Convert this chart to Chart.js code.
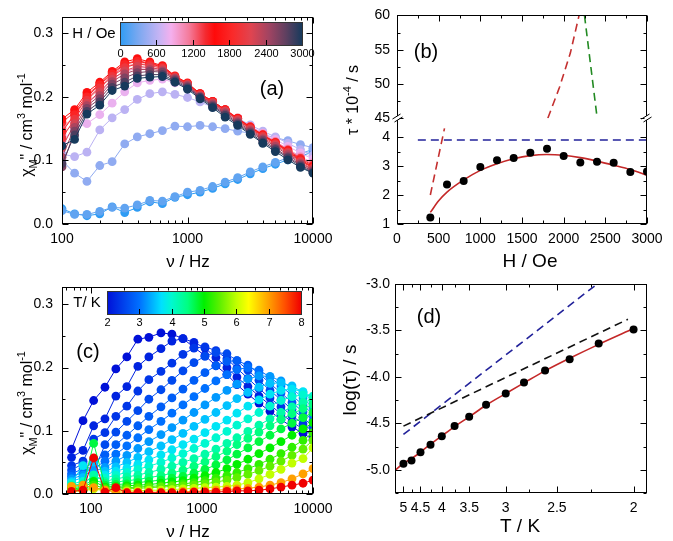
<!DOCTYPE html>
<html>
<head>
<meta charset="utf-8">
<script src="https://cdn.jsdelivr.net/npm/chart.js@4.4.1/dist/chart.umd.min.js"></script>
<style>
body { margin: 0; background: #fff; width: 673px; height: 541px; position: relative; overflow: hidden; }
canvas { position: absolute; }
</style>
</head>
<body>
<canvas id="ca" width="340" height="270" style="left:0;top:0"></canvas>
<canvas id="cb" width="333" height="270" style="left:340px;top:0"></canvas>
<canvas id="cc" width="340" height="271" style="left:0;top:270px"></canvas>
<canvas id="cd" width="333" height="271" style="left:340px;top:270px"></canvas>
<script>
// ---- panel (a): chi'' vs frequency at several fields ----
const freqA = [100, 126, 158, 200, 251, 316, 398, 501, 631, 794, 1000, 1259, 1585, 1995, 2512, 3162, 3981, 5012, 6310, 7943, 10000];
const fieldsA = [0, 200, 400, 600, 800, 1000, 1200, 1400, 1600, 1800, 2000, 2200, 2400, 2600, 2800, 3000];
const aH0    = [0.024,0.016,0.013,0.016,0.027,0.018,0.026,0.035,0.032,0.042,0.046,0.050,0.056,0.063,0.070,0.079,0.087,0.094,0.101,0.107,0.113];
const aH200  = [0.021,0.015,0.015,0.020,0.026,0.025,0.030,0.037,0.036,0.043,0.050,0.053,0.059,0.066,0.073,0.082,0.090,0.097,0.104,0.110,0.118];
const aH400  = [0.100,0.080,0.067,0.092,0.098,0.126,0.137,0.142,0.147,0.154,0.153,0.155,0.153,0.150,0.146,0.143,0.140,0.136,0.131,0.125,0.120];
const aH600  = [0.110,0.106,0.113,0.148,0.167,0.180,0.196,0.205,0.208,0.204,0.199,0.192,0.184,0.176,0.166,0.156,0.146,0.137,0.127,0.117,0.108];
const aH800  = [0.130,0.150,0.158,0.172,0.190,0.208,0.222,0.226,0.228,0.222,0.214,0.201,0.189,0.177,0.165,0.154,0.143,0.133,0.122,0.112,0.102];
const aH1000 = [0.140,0.160,0.190,0.205,0.228,0.240,0.245,0.246,0.242,0.229,0.218,0.204,0.192,0.179,0.166,0.153,0.142,0.130,0.118,0.106,0.096];
const aH1200 = [0.150,0.170,0.198,0.215,0.234,0.248,0.252,0.251,0.246,0.231,0.220,0.205,0.193,0.180,0.167,0.153,0.141,0.129,0.117,0.104,0.094];
const aH1400 = [0.160,0.176,0.203,0.220,0.238,0.252,0.257,0.253,0.248,0.232,0.221,0.205,0.193,0.180,0.166,0.153,0.140,0.128,0.116,0.103,0.092];
const aH1600 = [0.165,0.180,0.207,0.223,0.240,0.255,0.260,0.255,0.249,0.233,0.222,0.205,0.193,0.180,0.166,0.152,0.140,0.128,0.115,0.101,0.090];
const aH1800 = [0.145,0.172,0.200,0.219,0.236,0.251,0.256,0.252,0.247,0.232,0.221,0.204,0.192,0.179,0.165,0.151,0.139,0.127,0.114,0.100,0.089];
const aH2000 = [0.135,0.165,0.195,0.214,0.232,0.246,0.252,0.249,0.245,0.231,0.220,0.203,0.191,0.178,0.164,0.150,0.138,0.126,0.113,0.099,0.088];
const aH2200 = [0.120,0.158,0.190,0.208,0.228,0.241,0.248,0.246,0.243,0.230,0.219,0.202,0.190,0.177,0.163,0.149,0.136,0.124,0.111,0.097,0.086];
const aH2400 = [0.105,0.152,0.186,0.202,0.224,0.236,0.243,0.243,0.241,0.229,0.218,0.201,0.189,0.175,0.161,0.147,0.134,0.122,0.109,0.095,0.085];
const aH2600 = [0.090,0.146,0.182,0.197,0.220,0.230,0.238,0.240,0.239,0.227,0.216,0.200,0.187,0.173,0.159,0.145,0.132,0.119,0.106,0.093,0.083];
const aH2800 = [0.095,0.140,0.177,0.192,0.215,0.223,0.233,0.235,0.235,0.225,0.214,0.199,0.185,0.171,0.157,0.143,0.129,0.117,0.104,0.091,0.081];
const aH3000 = [0.123,0.133,0.173,0.187,0.210,0.217,0.229,0.231,0.232,0.223,0.212,0.197,0.183,0.168,0.155,0.141,0.127,0.114,0.101,0.089,0.080];
const seriesA = [aH0, aH200, aH400, aH600, aH800, aH1000, aH1200, aH1400, aH1600, aH1800, aH2000, aH2200, aH2400, aH2600, aH2800, aH3000];

// ---- panel (b): tau vs field ----
const fieldB = [400, 600, 800, 1000, 1200, 1400, 1600, 1800, 2000, 2200, 2400, 2600, 2800, 3000];
const tauB   = [1.22, 2.36, 2.48, 2.97, 3.20, 3.28, 3.46, 3.60, 3.35, 3.12, 3.15, 3.11, 2.79, 2.81];
const fitFieldB = [400, 500, 600, 800, 1000, 1200, 1400, 1600, 1800, 2000, 2200, 2400, 2600, 2800, 3000];
const fitTauB   = [1.40, 1.80, 2.10, 2.52, 2.85, 3.08, 3.25, 3.36, 3.40, 3.37, 3.29, 3.17, 3.03, 2.88, 2.68];
const blueDashH = [250, 3000];
const blueDashT = [3.9, 3.9];
const redLowH = [400, 570];
const redLowT = [2.0, 4.3];
const redHighH = [1810, 1950, 2080, 2185];
const redHighT = [45, 49.5, 54.5, 60];
const greenH = [2250, 2400];
const greenT = [60, 45.2];

// ---- panel (c): chi'' vs frequency at several temperatures ----
const freqC = [67, 85, 106, 134, 168, 211, 265, 333, 428, 537, 675, 848, 1065, 1337, 1679, 2066, 2594, 3263, 4100, 5150, 6470, 8130, 10000];
const tempsC = [2.0, 2.2, 2.4, 2.6, 2.8, 3.0, 3.25, 3.5, 3.75, 4.0, 4.25, 4.5, 4.75, 5.0, 5.25, 5.5, 6.0, 7.0, 8.0];
const cT200 = [0.071,0.116,0.148,0.169,0.198,0.217,0.245,0.248,0.255,0.253,0.246,0.232,0.219,0.203,0.189,0.173,0.158,0.144,0.131,0.118,0.106,0.096,0.086];
const cT220 = [0.058,0.069,0.108,0.119,0.155,0.170,0.202,0.217,0.230,0.242,0.246,0.240,0.231,0.216,0.200,0.185,0.170,0.155,0.141,0.127,0.114,0.103,0.092];
const cT240 = [0.045,0.052,0.087,0.097,0.123,0.139,0.163,0.181,0.194,0.207,0.221,0.231,0.233,0.227,0.214,0.199,0.183,0.167,0.152,0.138,0.124,0.111,0.099];
const cT260 = [0.038,0.048,0.035,0.078,0.098,0.115,0.132,0.150,0.165,0.180,0.195,0.208,0.218,0.224,0.222,0.211,0.196,0.180,0.164,0.149,0.134,0.121,0.107];
const cT280 = [0.032,0.040,0.050,0.062,0.078,0.093,0.108,0.123,0.138,0.152,0.166,0.180,0.192,0.203,0.210,0.211,0.204,0.191,0.175,0.160,0.145,0.130,0.116];
const cT300 = [0.028,0.034,0.040,0.052,0.063,0.076,0.089,0.102,0.115,0.128,0.141,0.154,0.167,0.179,0.189,0.197,0.200,0.196,0.185,0.171,0.156,0.141,0.126];
const cT325 = [0.024,0.030,0.036,0.042,0.052,0.061,0.072,0.083,0.094,0.105,0.117,0.129,0.141,0.153,0.164,0.174,0.182,0.187,0.186,0.179,0.167,0.152,0.137];
const cT350 = [0.020,0.026,0.050,0.036,0.043,0.050,0.058,0.067,0.076,0.086,0.096,0.107,0.118,0.129,0.140,0.151,0.161,0.169,0.175,0.176,0.171,0.161,0.147];
const cT375 = [0.018,0.045,0.030,0.030,0.036,0.041,0.047,0.054,0.062,0.070,0.078,0.087,0.097,0.107,0.117,0.128,0.139,0.149,0.158,0.164,0.166,0.162,0.153];
const cT400 = [0.016,0.020,0.025,0.025,0.030,0.034,0.039,0.044,0.050,0.057,0.064,0.072,0.080,0.089,0.099,0.109,0.119,0.129,0.139,0.148,0.154,0.157,0.155];
const cT425 = [0.014,0.016,0.030,0.020,0.024,0.027,0.030,0.034,0.039,0.044,0.050,0.056,0.063,0.071,0.080,0.089,0.099,0.109,0.119,0.129,0.138,0.145,0.150];
const cT450 = [0.012,0.014,0.022,0.017,0.019,0.021,0.023,0.026,0.029,0.033,0.038,0.044,0.051,0.059,0.068,0.078,0.088,0.098,0.108,0.118,0.127,0.135,0.142];
const cT475 = [0.010,0.012,0.080,0.014,0.015,0.016,0.018,0.020,0.022,0.025,0.028,0.033,0.039,0.046,0.054,0.063,0.073,0.083,0.093,0.103,0.112,0.121,0.129];
const cT500 = [0.008,0.010,0.020,0.011,0.012,0.013,0.014,0.015,0.017,0.019,0.021,0.025,0.029,0.034,0.040,0.047,0.055,0.064,0.073,0.083,0.093,0.103,0.113];
const cT525 = [0.006,0.008,0.014,0.009,0.010,0.010,0.011,0.012,0.013,0.014,0.016,0.018,0.021,0.025,0.029,0.034,0.040,0.047,0.055,0.064,0.074,0.085,0.097];
const cT550 = [0.005,0.006,0.010,0.007,0.008,0.008,0.009,0.010,0.011,0.012,0.013,0.014,0.016,0.019,0.022,0.026,0.031,0.037,0.044,0.052,0.061,0.071,0.085];
const cT600 = [0.004,0.005,0.008,0.005,0.005,0.005,0.005,0.006,0.006,0.007,0.008,0.009,0.010,0.011,0.012,0.014,0.018,0.024,0.031,0.039,0.049,0.056,0.073];
const cT700 = [0.012,0.014,0.010,0.006,0.003,0.003,0.003,0.003,0.003,0.003,0.004,0.004,0.005,0.006,0.007,0.008,0.009,0.011,0.014,0.018,0.024,0.032,0.040];
const cT800 = [0.004,0.006,0.057,0.003,0.010,0.002,0.002,0.002,0.002,0.002,0.002,0.003,0.003,0.003,0.004,0.005,0.005,0.006,0.008,0.011,0.014,0.017,0.022];
const seriesC = [cT200, cT220, cT240, cT260, cT280, cT300, cT325, cT350, cT375, cT400, cT425, cT450, cT475, cT500, cT525, cT550, cT600, cT700, cT800];

// ---- panel (d): log(tau) vs 1/T ----
const tempD = [5, 4.75, 4.5, 4.25, 4, 3.75, 3.5, 3.25, 3, 2.8, 2.6, 2.4, 2.2, 2];
const logTauD = [-4.935, -4.90, -4.81, -4.73, -4.64, -4.53, -4.43, -4.30, -4.18, -4.06, -3.93, -3.81, -3.64, -3.49];
const fitTempD = [5.3, 5, 4.75, 4.5, 4.25, 4, 3.75, 3.5, 3.25, 3, 2.8, 2.6, 2.4, 2.2, 2];
const fitLogD  = [-5.01, -4.93, -4.88, -4.81, -4.725, -4.635, -4.535, -4.43, -4.305, -4.18, -4.065, -3.935, -3.80, -3.65, -3.48];
const blackDashT = [5, 2.03];
const blackDashL = [-4.53, -3.38];
const blueDashTD = [5, 2.21];
const blueDashLD = [-4.62, -3.0];
const tickTempD = [5, 4.5, 4, 3.5, 3, 2.5, 2];

// colour scales of the two colour bars
const stopsA = [[0, '#2f9cf4'], [0.10, '#7aa8f0'], [0.22, '#c8b4f4'], [0.28, '#f4b0ee'], [0.38, '#f47a9a'],
  [0.47, '#f42a30'], [0.52, '#ff0a0a'], [0.62, '#fa2a2a'], [0.72, '#e04450'], [0.82, '#a04462'], [0.91, '#604060'], [1, '#173a5c']];
const stopsC = [[0, '#0010d8'], [0.167, '#0070ff'], [0.28, '#00e0ff'], [0.333, '#00f8d0'], [0.417, '#00ff80'], [0.5, '#00f000'],
  [0.583, '#60f000'], [0.667, '#c0ff00'], [0.73, '#ffff00'], [0.833, '#ffa000'], [0.917, '#ff5000'], [1, '#f00000']];

const FONT = "'Liberation Sans', Arial, sans-serif";

function colorAt(stops, t) {
    t = Math.max(0, Math.min(1, t));
    for (let i = 1; i < stops.length; i++) {
        if (t <= stops[i][0]) {
            const a = stops[i - 1], b = stops[i];
            const f = (t - a[0]) / (b[0] - a[0]);
            const ca = [1, 3, 5].map(k => parseInt(a[1].substr(k, 2), 16));
            const cb = [1, 3, 5].map(k => parseInt(b[1].substr(k, 2), 16));
            return 'rgb(' + ca.map((v, k) => Math.round(v + (cb[k] - v) * f)).join(',') + ')';
        }
    }
    return stops[stops.length - 1][1];
}

function pts(xs, ys, fx) {
    return xs.map((x, i) => ({ x: fx ? fx(x) : x, y: ys[i] }));
}

function seg(ctx, x1, y1, x2, y2) {
    ctx.beginPath(); ctx.moveTo(x1, y1); ctx.lineTo(x2, y2); ctx.stroke();
}

function text(ctx, s, x, y, size, align) {
    ctx.save();
    ctx.fillStyle = '#000';
    ctx.font = size + 'px ' + FONT;
    ctx.textAlign = align || 'center';
    ctx.textBaseline = 'middle';
    ctx.fillText(s, x, y);
    ctx.restore();
}

// text with sub/superscripts, optionally rotated
function rich(ctx, parts, x, y, size, rot) {
    ctx.save();
    ctx.translate(x, y);
    if (rot) ctx.rotate(-Math.PI / 2);
    ctx.fillStyle = '#000';
    ctx.textBaseline = 'alphabetic';
    ctx.textAlign = 'left';
    let w = 0;
    parts.forEach(p => {
        ctx.font = (p[1] ? size * 0.68 : size) + 'px ' + FONT;
        w += ctx.measureText(p[0]).width;
    });
    let cx = -w / 2;
    parts.forEach(p => {
        const s = p[1] ? size * 0.68 : size;
        ctx.font = s + 'px ' + FONT;
        const dy = p[1] == 'sub' ? size * 0.3 : p[1] == 'sup' ? -size * 0.42 : 0;
        ctx.fillText(p[0], cx, size * 0.36 + dy);
        cx += ctx.measureText(p[0]).width;
    });
    ctx.restore();
}

function colorbar(ctx, x, y, w, h, stops, labels, title, titleX) {
    const g = ctx.createLinearGradient(x, 0, x + w, 0);
    stops.forEach(s => g.addColorStop(s[0], s[1]));
    ctx.save();
    ctx.fillStyle = g;
    ctx.fillRect(x, y, w, h);
    ctx.strokeStyle = '#333';
    ctx.lineWidth = 1;
    ctx.strokeRect(x + 0.5, y + 0.5, w, h);
    ctx.strokeStyle = '#000';
    labels.forEach((l, i) => {
        const px = Math.round(x + w * i / (labels.length - 1)) + 0.5;
        if (i > 0 && i < labels.length - 1) seg(ctx, px, y + h, px, y + h - 5);
        text(ctx, l, px, y + h + 9, 11);
    });
    ctx.restore();
    text(ctx, title, titleX, y + h / 2, 15);
}

// box round the plot with inward ticks on all four sides
const framePlugin = {
    id: 'frame',
    afterDraw(chart, args, o) {
        const ctx = chart.ctx, a = chart.chartArea;
        const L = Math.round(a.left) + 0.5, R = Math.round(a.right) - 0.5;
        const T = Math.round(a.top) + 0.5, B = Math.round(a.bottom) - 0.5;
        ctx.save();
        ctx.strokeStyle = '#000';
        ctx.lineWidth = 1;
        ctx.strokeRect(L, T, R - L, B - T);
        const xs = chart.scales.x;
        const xt = (list, len) => list.forEach(v => {
            const p = Math.round(xs.getPixelForValue(v)) + 0.5;
            seg(ctx, p, B, p, B - len); seg(ctx, p, T, p, T + len);
        });
        xt(o.xMajor, 6); xt(o.xMinor || [], 3);
        o.y.forEach(ax => {
            const s = chart.scales[ax.id];
            const yt = (list, len) => list.forEach(v => {
                const p = Math.round(s.getPixelForValue(v)) + 0.5;
                seg(ctx, L, p, L + len, p); seg(ctx, R, p, R - len, p);
            });
            yt(ax.major, 6); yt(ax.minor || [], 3);
        });
        if (o.breakAt) {
            const yb = Math.round(chart.scales[o.breakAt].bottom);
            ctx.fillStyle = '#fff';
            [L, R].forEach(xx => {
                ctx.fillRect(xx - 2, yb - 2, 4, 4);
                seg(ctx, xx - 5, yb + 1, xx + 3, yb - 4);
                seg(ctx, xx - 3, yb + 4, xx + 5, yb - 1);
            });
        }
        ctx.restore();
        if (o.deco) o.deco(ctx, chart);
    }
};

function axis(extra, pad, fmt) {
    return Object.assign({
        grid: { display: false, drawTicks: false },
        border: { display: false },
        ticks: { color: '#000', font: { family: FONT, size: 14 }, autoSkip: false, maxRotation: 0, padding: pad,
            callback: fmt || (v => String(v)) }
    }, extra);
}

function fixed(list) {
    return s => { s.ticks = list.map(v => ({ value: v })); };
}

function baseOptions(padding, scales, frame) {
    return {
        responsive: false,
        animation: false,
        devicePixelRatio: 1,
        layout: { padding: padding },
        plugins: { legend: { display: false }, tooltip: { enabled: false }, frame: frame },
        scales: scales
    };
}

const chiTitle = [['\u03c7'], ['M', 'sub'], ['" / cm'], ['3', 'sup'], [' mol'], ['-1', 'sup']];
const logMinor = [200, 300, 400, 500, 600, 700, 800, 900, 2000, 3000, 4000, 5000, 6000, 7000, 8000, 9000];
const oneDec = v => v.toFixed(1);

// ---------- (a) ----------
const dsA = fieldsA.map((h, i) => {
    const c = colorAt(stopsA, h / 3000);
    return { data: pts(freqA, seriesA[i]), showLine: true, borderColor: c, backgroundColor: c,
        borderWidth: 1, pointRadius: 4.4, pointBorderWidth: 0 };
}).reverse();

new Chart(document.getElementById('ca'), {
    type: 'scatter',
    data: { datasets: dsA },
    plugins: [framePlugin],
    options: baseOptions({ top: 15, right: 27, left: 0, bottom: 0 }, {
        x: axis({ type: 'logarithmic', min: 100, max: 10000, afterBuildTicks: fixed([100, 1000, 10000]),
            afterFit: s => { s.height = 46; } }, 7),
        y: axis({ type: 'linear', min: 0, max: 0.325, afterBuildTicks: fixed([0, 0.1, 0.2, 0.3]),
            afterFit: s => { s.width = 62; } }, 9, oneDec)
    }, {
        xMajor: [100, 1000, 10000], xMinor: logMinor,
        y: [{ id: 'y', major: [0, 0.1, 0.2, 0.3], minor: [0.05, 0.15, 0.25] }],
        deco: ctx => {
            rich(ctx, chiTitle, 26, 125, 16, true);
            text(ctx, '\u03bd / Hz', 188, 262, 17);
            text(ctx, '(a)', 272, 89, 20);
            colorbar(ctx, 120, 22, 182, 23, stopsA, ['0', '600', '1200', '1800', '2400', '3000'], 'H / Oe', 94);
        }
    })
});

// ---------- (b) ----------
const dashB = (xs, ys, color, axisId) => ({ data: pts(xs, ys), showLine: true, borderColor: color, borderWidth: 1.6,
    borderDash: [8, 5], pointRadius: 0, yAxisID: axisId });

new Chart(document.getElementById('cb'), {
    type: 'scatter',
    data: { datasets: [
        { data: pts(fieldB, tauB), backgroundColor: '#000', pointRadius: 4, pointBorderWidth: 0, yAxisID: 'yLo' },
        { data: pts(fitFieldB, fitTauB), showLine: true, borderColor: '#c42828', borderWidth: 1.6, pointRadius: 0,
            cubicInterpolationMode: 'monotone', yAxisID: 'yLo' },
        dashB(blueDashH, blueDashT, '#22229a', 'yLo'),
        dashB(redLowH, redLowT, '#c43030', 'yLo'),
        dashB(redHighH, redHighT, '#c43030', 'yHi'),
        dashB(greenH, greenT, '#228a22', 'yHi')
    ] },
    plugins: [framePlugin],
    options: baseOptions({ top: 15, right: 26, left: 0, bottom: 0 }, {
        x: axis({ type: 'linear', min: 0, max: 3000, afterBuildTicks: fixed([0, 500, 1000, 1500, 2000, 2500, 3000]),
            afterFit: s => { s.height = 46; } }, 7),
        yLo: axis({ type: 'linear', position: 'left', stack: 'tau', stackWeight: 106, min: 1, max: 4.65,
            afterBuildTicks: fixed([1, 2, 3, 4]), afterFit: s => { s.width = 57; } }, 7),
        yHi: axis({ type: 'linear', position: 'left', stack: 'tau', stackWeight: 103, min: 45, max: 60,
            afterBuildTicks: fixed([45, 50, 55, 60]), afterFit: s => { s.width = 57; } }, 7)
    }, {
        xMajor: [0, 500, 1000, 1500, 2000, 2500, 3000], xMinor: [250, 750, 1250, 1750, 2250, 2750],
        y: [{ id: 'yLo', major: [1, 2, 3, 4], minor: [1.5, 2.5, 3.5] },
            { id: 'yHi', major: [45, 50, 55, 60], minor: [47.5, 52.5, 57.5] }],
        breakAt: 'yHi',
        deco: ctx => {
            rich(ctx, [['\u03c4 * 10'], ['-4', 'sup'], [' / s']], 12, 100, 16, true);
            text(ctx, 'H / Oe', 190, 262, 19);
            text(ctx, '(b)', 86, 52, 20);
        }
    })
});

// ---------- (c) ----------
// high temperatures drawn on top (first dataset is drawn last)
const dsC = tempsC.map((t, i) => {
    const c = colorAt(stopsC, (t - 2) / 6);
    return { data: pts(freqC, seriesC[i]), showLine: true, borderColor: c, backgroundColor: c,
        borderWidth: 1, pointRadius: 4.4, pointBorderWidth: 0 };
}).reverse();

new Chart(document.getElementById('cc'), {
    type: 'scatter',
    data: { datasets: dsC },
    plugins: [framePlugin],
    options: baseOptions({ top: 15, right: 27, left: 0, bottom: 0 }, {
        x: axis({ type: 'logarithmic', min: 55, max: 10000, afterBuildTicks: fixed([100, 1000, 10000]),
            afterFit: s => { s.height = 47; } }, 7),
        y: axis({ type: 'linear', min: 0, max: 0.327, afterBuildTicks: fixed([0, 0.1, 0.2, 0.3]),
            afterFit: s => { s.width = 62; } }, 9, oneDec)
    }, {
        xMajor: [100, 1000, 10000], xMinor: [60, 70, 80, 90].concat(logMinor),
        y: [{ id: 'y', major: [0, 0.1, 0.2, 0.3], minor: [0.05, 0.15, 0.25] }],
        deco: ctx => {
            rich(ctx, chiTitle, 26, 133, 16, true);
            text(ctx, '\u03bd / Hz', 188, 262, 17);
            text(ctx, '(c)', 88, 82, 20);
            colorbar(ctx, 107, 21, 194, 23, stopsC, ['2', '3', '4', '5', '6', '7', '8'], 'T/ K', 87);
        }
    })
});

// ---------- (d) ----------
const inv = t => 1 / t;
const dashD = (xs, ys, color) => ({ data: pts(xs, ys, inv), showLine: true, borderColor: color, borderWidth: 1.6,
    borderDash: [8, 5], pointRadius: 0 });

new Chart(document.getElementById('cd'), {
    type: 'scatter',
    data: { datasets: [
        { data: pts(tempD, logTauD, inv), backgroundColor: '#000', pointRadius: 4, pointBorderWidth: 0 },
        { data: pts(fitTempD, fitLogD, inv), showLine: true, borderColor: '#c42828', borderWidth: 1.6, pointRadius: 0,
            cubicInterpolationMode: 'monotone' },
        dashD(blackDashT, blackDashL, '#111'),
        dashD(blueDashTD, blueDashLD, '#22229a')
    ] },
    plugins: [framePlugin],
    options: baseOptions({ top: 14, right: 26, left: 0, bottom: 0 }, {
        x: axis({ type: 'linear', min: 0.189, max: 0.5175, afterBuildTicks: fixed(tickTempD.map(inv)),
            afterFit: s => { s.height = 48; } }, 7, v => String(Math.round(100 / v) / 100)),
        y: axis({ type: 'linear', min: -5.25, max: -3.0, afterBuildTicks: fixed([-5, -4.5, -4, -3.5, -3]),
            afterFit: s => { s.width = 55; } }, 5, oneDec)
    }, {
        xMajor: tickTempD.map(inv), xMinor: [4.75, 4.25, 3.75, 2.75, 2.25].map(inv),
        y: [{ id: 'y', major: [-5, -4.5, -4, -3.5, -3], minor: [-5.25, -4.75, -4.25, -3.75, -3.25] }],
        deco: ctx => {
            text(ctx, 'T / K', 180, 257, 19);
            ctx.save(); ctx.translate(11, 110); ctx.rotate(-Math.PI / 2);
            text(ctx, 'log(\u03c4) / s', 0, 0, 19);
            ctx.restore();
            text(ctx, '(d)', 89, 47, 20);
        }
    })
});
</script>
</body>
</html>
